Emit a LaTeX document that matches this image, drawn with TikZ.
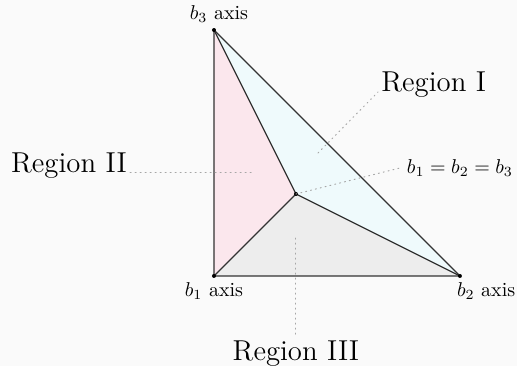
\documentclass[tikz,border=0pt]{standalone}
\usetikzlibrary{positioning}
\definecolor{regionone}{RGB}{239,250,252}
\definecolor{regiontwo}{RGB}{251,231,237}
\definecolor{regionthree}{RGB}{237,237,237}
\begin{document}
\begin{tikzpicture}[line join=round, line cap=round, x=123pt, y=123pt,
    edge/.style={draw=black!80, line width=0.6pt},
    leader/.style={gray!70, dotted, line width=0.5pt},
    regionlabel/.style={font=\Large, inner sep=1.5pt}]
    \fill[black!2] (-0.870,-0.366) rectangle (1.232,1.122);
    \useasboundingbox (-0.870,-0.366) rectangle (1.232,1.122);
    \coordinate (b1) at (0,0);
    \coordinate (b2) at (1,0);
    \coordinate (b3) at (0,1);
    \coordinate (c) at (1/3,1/3);
    \fill[regionone] (b3) -- (c) -- (b2) -- cycle;
    \fill[regiontwo] (b3) -- (b1) -- (c) -- cycle;
    \fill[regionthree] (b1) -- (c) -- (b2) -- cycle;
    \draw[edge] (b1) -- (b2) -- (b3) -- cycle;
    \draw[edge] (b1) -- (c) (b2) -- (c) (b3) -- (c);
    \foreach \p in {b1, b2, b3, c} {
        \fill (\p) circle (1pt);
    }
    \node[above, xshift=2.5pt] (b3lab) at (b3) {$b_3$ axis};
    \node[below] (b1lab) at (b1) {$b_1$ axis};
    \node[anchor=north west, xshift=-5pt] (b2lab) at (b2) {$b_2$ axis};
    \node[anchor=west] (eqlab) at (0.756,0.439) {$b_1=b_2=b_3$};
    \coordinate (r1pt) at (0.423,0.5);
    \coordinate (r2pt) at (0.154,0.419);
    \coordinate (r3pt) at (1/3,0.154);
    \node[regionlabel, anchor=base west] (r1lab) at (0.667,0.748) {Region I};
    \node[regionlabel, anchor=base east] (r2lab) at (-0.341,0.419) {Region II};
    \node[regionlabel, anchor=north] (r3lab) at (1/3,-0.25) {Region III};
    \draw[leader] (c) -- (eqlab.west);
    \draw[leader] (r1pt) -- (r1lab.base west);
    \draw[leader] (r2lab.base east) -- (r2pt);
    \draw[leader] (r3pt) -- (r3lab.north);
\end{tikzpicture}
\end{document}
